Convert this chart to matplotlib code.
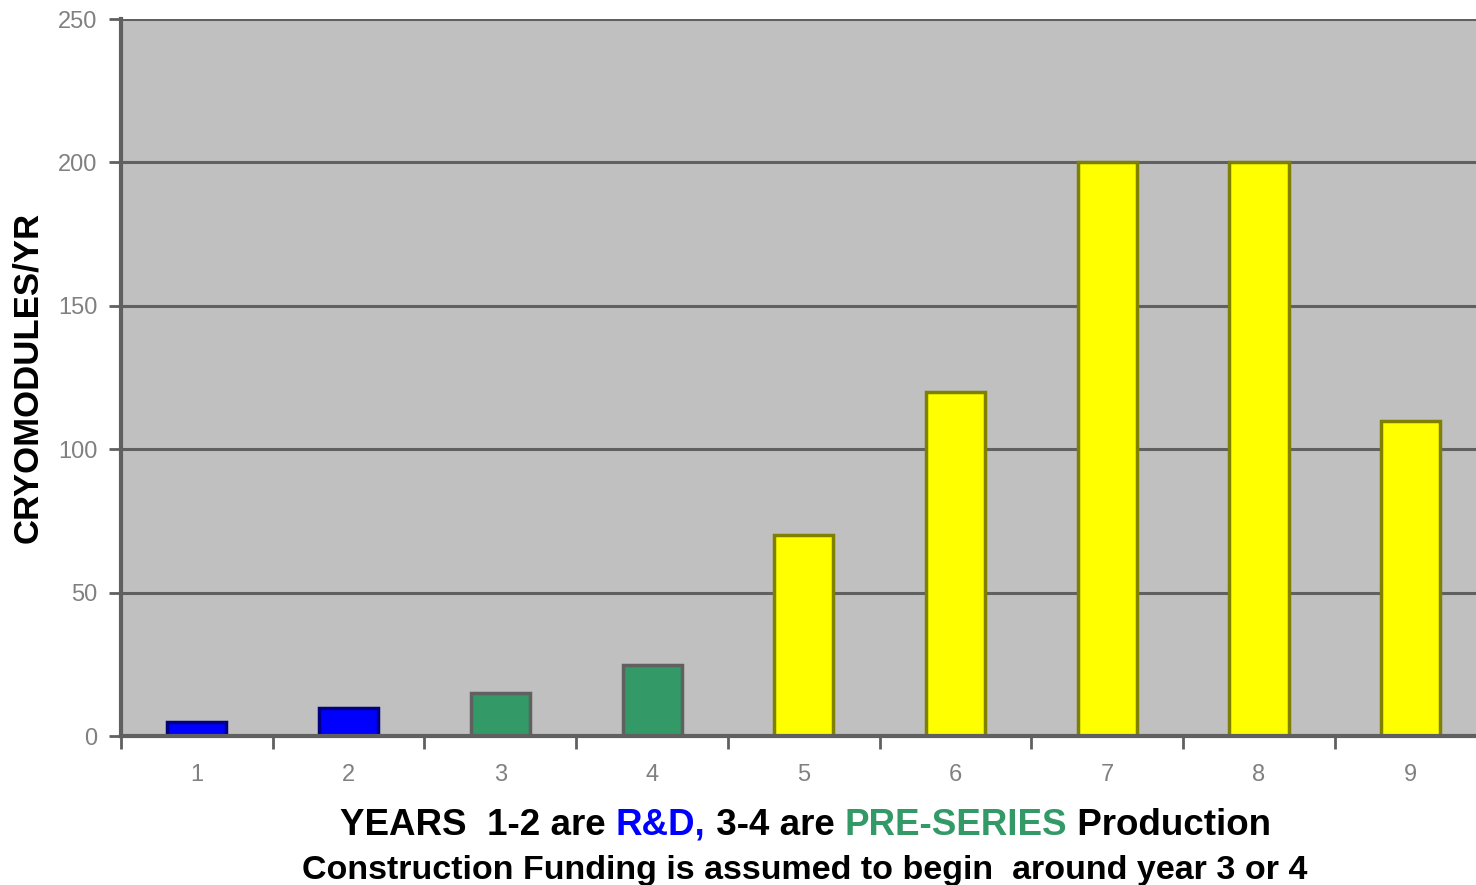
import matplotlib
matplotlib.use('Agg')
import matplotlib.pyplot as plt
import numpy as np

years = [1, 2, 3, 4, 5, 6, 7, 8, 9]
cryomodules = [5, 10, 15, 25, 70, 120, 200, 200, 110]
phase = ['rd', 'rd', 'pre', 'pre', 'prod', 'prod', 'prod', 'prod', 'prod']

face = {'rd': '#0000FF', 'pre': '#339966', 'prod': '#FFFF00'}
edge = {'rd': '#000080', 'pre': '#606060', 'prod': '#808000'}

y_ticks = [0, 50, 100, 150, 200, 250]

plt.rcParams['font.family'] = ['Liberation Sans', 'DejaVu Sans']

fig = plt.figure(figsize=(14.76, 8.85), dpi=100)
ax = fig.add_axes([0.082, 0.168, 0.918, 0.8105])
ax.set_facecolor('#C0C0C0')

for y in y_ticks[1:]:
    ax.axhline(y, color='#606060', lw=2.2, zorder=1)

ax.bar(years, cryomodules, width=0.39,
       color=[face[p] for p in phase],
       edgecolor=[edge[p] for p in phase], linewidth=2.5, zorder=2)

ax.set_xlim(0.5, 9.43)
ax.set_ylim(0, 250)
ax.set_yticks(y_ticks)
ax.set_xticks(years)
ax.set_xticks(np.arange(0.5, 9.5, 1.0), minor=True)
ax.tick_params(axis='x', which='major', length=0, pad=20, labelsize=17, labelcolor='#808080')
ax.tick_params(axis='x', which='minor', length=9, width=2, color='#606060', direction='out')
ax.tick_params(axis='y', length=9, width=2, color='#606060', pad=8, labelsize=17, labelcolor='#808080')

for side in ['top', 'right']:
    ax.spines[side].set_visible(False)
for side in ['left', 'bottom']:
    ax.spines[side].set_color('#606060')
    ax.spines[side].set_linewidth(3)
    ax.spines[side].set_zorder(3)

fig.text(0.019, 0.574, 'CRYOMODULES/YR', rotation=90, ha='center', va='center',
         fontsize=25, fontweight='bold', color='black')

# first caption line, pieces in different colours
pieces = [('YEARS  1-2 are ', 'black'), ('R&D,', '#0000FF'),
          (' 3-4 are ', 'black'), ('PRE-SERIES', '#339966'), (' Production', 'black')]
t = fig.text(0.2304, 0.0565, pieces[0][0], fontsize=26.5, fontweight='bold',
             color=pieces[0][1], va='baseline')
for s, c in pieces[1:]:
    t = ax.annotate(s, xycoords=t, xy=(1, 0), va='bottom', fontsize=26.5,
                    fontweight='bold', color=c, annotation_clip=False)

fig.text(0.5454, 0.0065, 'Construction Funding is assumed to begin  around year 3 or 4',
         ha='center', va='baseline', fontsize=24.5, fontweight='bold', color='black')

plt.savefig('out.png', dpi=100)
